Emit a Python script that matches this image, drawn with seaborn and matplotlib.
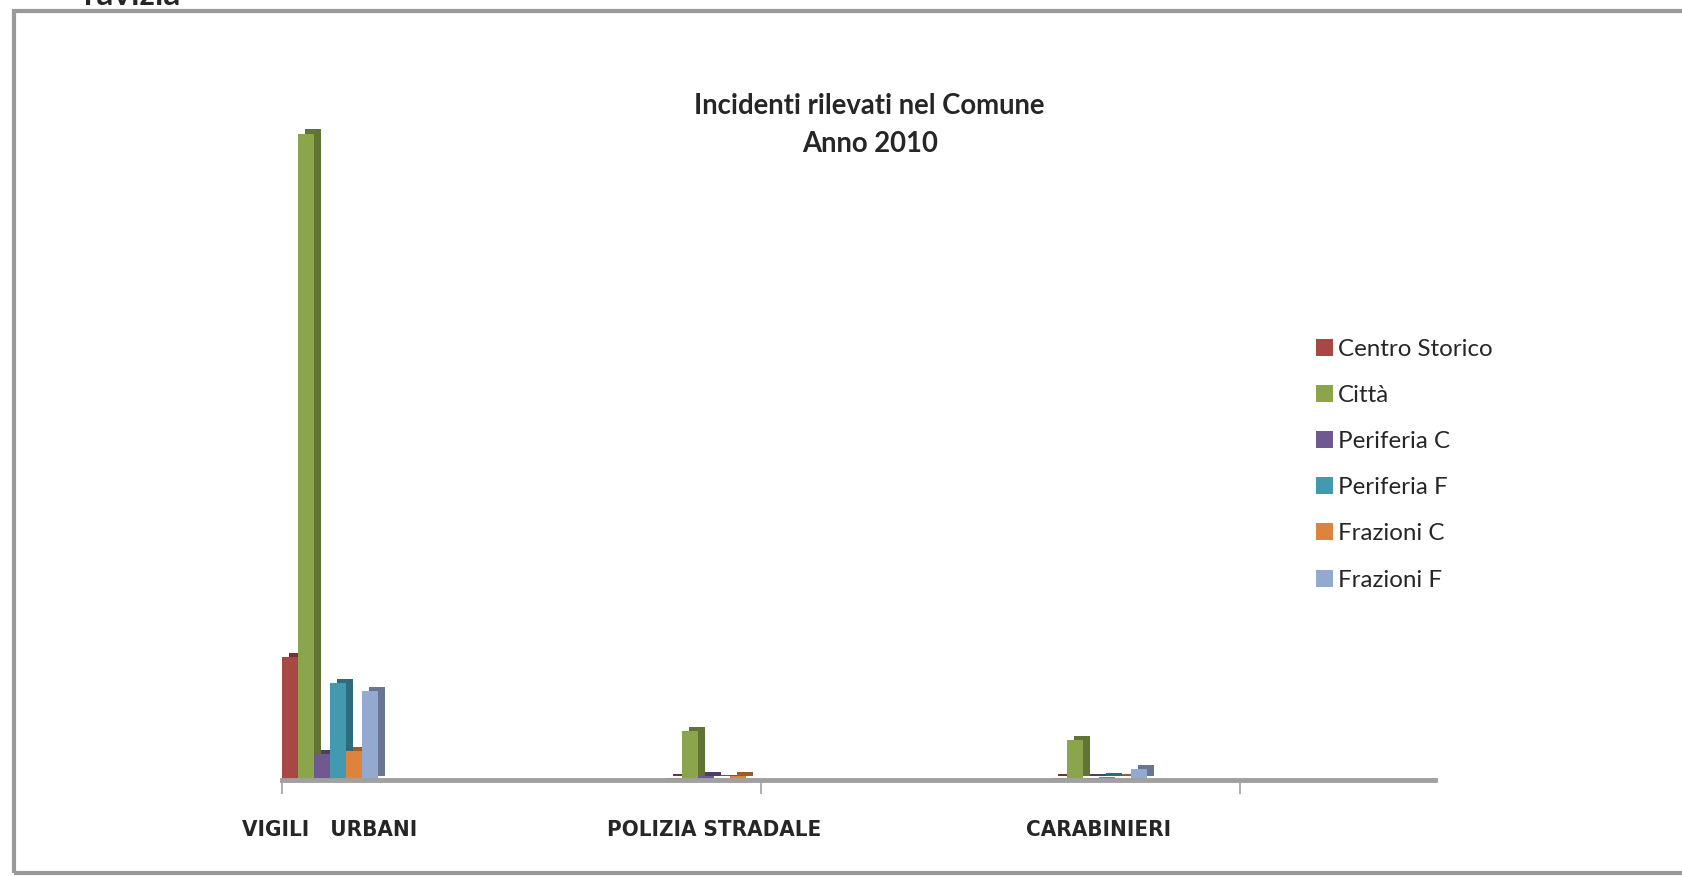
import pandas as pd
import matplotlib.pyplot as plt
import matplotlib.patheffects as pe
from matplotlib.patches import Rectangle
import seaborn as sns

# Data (no value axis shown, units are relative)
enti = ['VIGILI   URBANI', 'POLIZIA STRADALE', 'CARABINIERI']
zone = ['Centro Storico', 'Città', 'Periferia C', 'Periferia F', 'Frazioni C', 'Frazioni F']
centro_storico = [115, 1.5, 1.5]
citta = [603, 46, 37]
periferia_c = [24, 4, 1.5]
periferia_f = [90, 0.8, 3]
frazioni_c = [27, 4, 2]
frazioni_f = [83, 0.3, 10]
colori = ['#A94744', '#8BA54D', '#705891', '#4299B0', '#DC843E', '#94A9CF']

# Long format for seaborn
valori = [centro_storico, citta, periferia_c, periferia_f, frazioni_c, frazioni_f]
rows = []
for z, vals in zip(zone, valori):
    for e, v in zip(enti, vals):
        rows.append({'ente': e, 'zona': z, 'incidenti': v})
df = pd.DataFrame(rows)

sns.set_style('white')
plt.rcParams['font.family'] = ['Lato', 'DejaVu Sans']

fig = plt.figure(figsize=(16.82, 8.76), dpi=100)
ax = fig.add_axes([0.1677, 0.1096, 0.6855, 0.738])

sns.barplot(data=df, x='ente', y='incidenti', hue='zona', order=enti,
            hue_order=zone, palette=colori, width=0.25, saturation=1,
            linewidth=0, ax=ax, legend=True)

# fake 3D depth with a darker offset shadow
for bar in ax.patches:
    bar.set_clip_on(False)
    bar.set_path_effects([pe.SimplePatchShadow(offset=(5, 3), alpha=1, rho=0.7),
                          pe.Normal()])

ax.set_xlim(-0.125, 2.875)
ax.set_ylim(0, 603)
ax.set_xlabel('')
ax.set_ylabel('')
ax.set_yticks([])
for s in ['top', 'right', 'left']:
    ax.spines[s].set_visible(False)
ax.spines['bottom'].set_color('#A0A0A0')
ax.spines['bottom'].set_linewidth(3.5)

ax.tick_params(axis='x', length=0, pad=29)
for lab in ax.get_xticklabels():
    lab.set_fontfamily(['DejaVu Sans'])
    lab.set_fontstretch('condensed')
    lab.set_fontweight('bold')
    lab.set_fontsize(16)
ax.set_xticks([-0.125, 1.121, 2.367], minor=True)
ax.tick_params(axis='x', which='minor', bottom=True, direction='out',
               length=10, color='#A0A0A0', width=1.2)

leg = ax.legend(loc='upper left', bbox_to_anchor=(0.878, 0.716), frameon=False,
                fontsize=17.4, handlelength=0.7, handleheight=0.7,
                handletextpad=0.2, labelspacing=1.04)
for h in leg.legend_handles:
    h.set_path_effects([])

fig.text(0.517, 0.857, 'Incidenti rilevati nel Comune\nAnno 2010', ha='center',
         va='center', fontsize=19.8, fontweight='bold', linespacing=1.55)

# partially cut heading above the chart frame
fig.text(0.05, 0.994, 'ravizia', ha='left', va='baseline', fontsize=24,
         fontweight='bold')

# chart frame
fig.patches.append(Rectangle((0.0085, 0.003), 1.2, 0.984, transform=fig.transFigure,
                             fill=False, edgecolor='#9A9A9A', linewidth=3))

fig.savefig('out.png', dpi=100)
